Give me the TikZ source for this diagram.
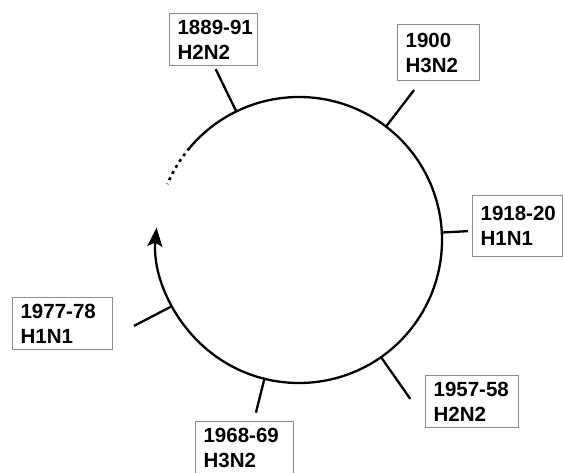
\documentclass[tikz,border=0pt]{standalone}
\usepackage{fontspec}
\setsansfont{Liberation Sans}
\usetikzlibrary{arrows.meta,calc}
\definecolor{boxgray}{HTML}{8C8C8C}

\begin{document}
\begin{tikzpicture}[x=1pt,y=1pt,>=Stealth,
  datebox/.style={draw=boxgray,line width=1.2pt,anchor=north west,align=left,inner xsep=8pt,inner ysep=0pt,
    font=\sffamily\bfseries\fontsize{20.5}{25}\selectfont},
  tick/.style={line width=2.3pt}]
\useasboundingbox (0,0) rectangle (563,472);
\coordinate (c) at (299,232);
% the dated boxes
\node[datebox,text width=72pt,minimum height=52pt] (e1889) at (169,459) {\mbox{1889-91}\\H2N2};
\node[datebox,text width=66pt,minimum height=56pt] (e1900) at (397,448) {1900\\H3N2};
\node[datebox,text width=74pt,minimum height=61pt] (e1918) at (472,277) {\mbox{1918-20}\\H1N1};
\node[datebox,text width=77pt,minimum height=52pt] (e1957) at (425,97) {\mbox{1957-58}\\H2N2};
\node[datebox,text width=82pt,minimum height=53pt] (e1968) at (195,51) {\mbox{1968-69}\\H3N2};
\node[datebox,text width=84pt,minimum height=52pt] (e1977) at (12,175) {\mbox{1977-78}\\H1N1};
% the cycle
\draw[line width=2.3pt,->,>={Stealth[length=19pt,width=15pt,inset=4pt]}] (c) ++(140:143) arc[start angle=140,end angle=-185,radius=143];
\draw[line width=2.6pt,dash pattern=on 3pt off 4pt] (c) ++(140:143) arc[start angle=140,end angle=157,radius=143];
% ticks
\foreach \a/\r [count=\i] in {116/190,52.5/189,3/169,-55/194,-104/178,207.5/186} {
  \coordinate (in\i) at ($(c)+(\a:143)$);
  \coordinate (out\i) at ($(c)+(\a:\r)$);
  \draw[tick] (in\i) -- (out\i);
}
\end{tikzpicture}
\end{document}
